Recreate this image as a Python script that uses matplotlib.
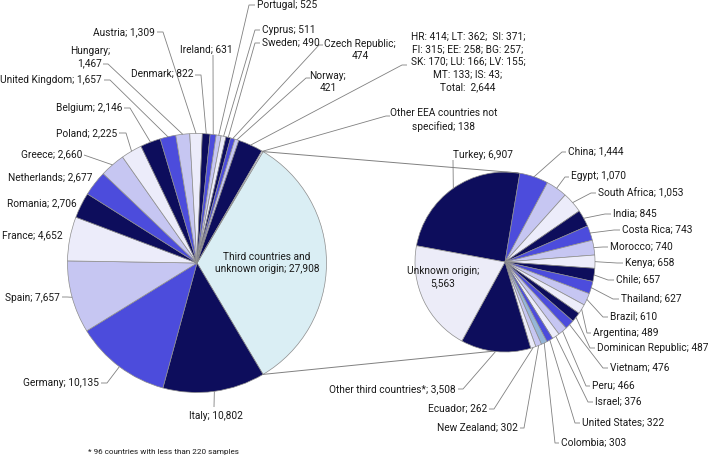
import matplotlib
matplotlib.use('Agg')
import matplotlib.pyplot as plt
import numpy as np

W, H = 709, 456

# ---------------- data ----------------
main_labels = ['Third countries and unknown origin', 'Italy', 'Germany', 'Spain', 'France',
               'Romania', 'Netherlands', 'Greece', 'Poland', 'Belgium', 'United Kingdom',
               'Hungary', 'Austria', 'Denmark', 'Ireland', 'Portugal', 'Cyprus', 'Sweden',
               'Czech Republic', 'Norway', 'Other EU/EEA', 'Other EEA countries not specified']
main_values = [27908, 10802, 10135, 7657, 4652, 2706, 2677, 2660, 2225, 2146, 1657,
               1467, 1309, 822, 631, 525, 511, 490, 474, 421, 2644, 138]

others_codes = ['HR', 'LT', 'SI', 'FI', 'EE', 'BG', 'SK', 'LU', 'LV', 'MT', 'IS']
others_values = [414, 362, 371, 315, 258, 257, 170, 166, 155, 133, 43]

third_labels = ['Turkey', 'China', 'Egypt', 'South Africa', 'India', 'Costa Rica', 'Morocco',
                'Kenya', 'Chile', 'Thailand', 'Brazil', 'Argentina', 'Dominican Republic',
                'Vietnam', 'Peru', 'Israel', 'United States', 'Colombia', 'New Zealand',
                'Ecuador', 'Other third countries*', 'Unknown origin']
third_values = [6907, 1444, 1070, 1053, 845, 743, 740, 658, 657, 627, 610, 489, 487,
                476, 466, 376, 322, 303, 302, 262, 3508, 5563]

footnote = '* 96 countries with less than 220 samples'

# ---------------- styles ----------------
D, B, L, V = '#0d0d5c', '#4c4cdc', '#c6c6f2', '#ececfa'
S = '#96b6d8'
CYAN = '#daeef4'
main_colors = [CYAN, D, B, L, V, D, B, L, V, D, B, L, V, D, B, L, V, D, B, L, D, V]
third_colors = [D, B, L, V, D, B, L, V, D, B, L, V, D, B, L, V, B, S, L, V, D, '#ececf8']

FONT = 'Roboto'
FS = 7.3
TXT = '#1a1a1a'
LEAD = '#808080'

# layout (pixel coords): text x, text y, ha, two-line, leader (x, y, stub) or None
main_layout = [
    (267, 263, 'center', True, None),
    (216, 416, 'center', False, (214, 408, 0)),
    (99, 383, 'right', False, (101, 384, 6)),
    (60, 298, 'right', False, (62, 298, 5)),
    (63, 235, 'right', False, None),
    (77, 203, 'right', False, None),
    (92, 177, 'right', False, None),
    (82, 154, 'right', False, (84, 156, 0)),
    (117, 133, 'right', False, (119, 134, 7)),
    (122, 108, 'right', False, (124, 109, 6)),
    (102, 80, 'right', False, (104, 81, 6)),
    (90, 57, 'center', True, (103, 65, 5)),
    (155, 32, 'right', False, (157, 33, 6)),
    (193, 74, 'right', False, (195, 76, 6)),
    (206, 50, 'center', False, (213, 56, 0)),
    (257, 5, 'left', False, (255, 6, -6)),
    (262, 30, 'left', False, (260, 31, -5)),
    (262, 43, 'left', False, (260, 44, -5)),
    (360, 50, 'center', True, (323, 46, -4)),
    (328, 82, 'center', True, (310, 79, -4)),
    (468, 62, 'center', None, (407, 66, -5)),
    (444, 120, 'center', True, (390, 117, -4)),
]
third_layout = [
    (453, 155, 'left', False, (453, 161, 0)),
    (568, 151, 'left', False, (566, 153, -4)),
    (571, 176, 'left', False, (569, 178, -4)),
    (598, 193, 'left', False, (596, 194, -5)),
    (613, 214, 'left', False, (611, 215, -6)),
    (622, 230, 'left', False, (620, 231, -6)),
    (610, 247, 'left', False, (608, 248, -5)),
    (625, 263, 'left', False, (623, 264, -6)),
    (616, 280, 'left', False, (614, 281, -6)),
    (621, 299, 'left', False, (619, 300, -6)),
    (610, 317, 'left', False, (608, 318, -5)),
    (593, 333, 'left', False, (591, 334, -4)),
    (597, 348, 'left', False, (595, 349, -5)),
    (610, 368, 'left', False, (608, 369, -5)),
    (592, 386, 'left', False, (590, 387, -4)),
    (595, 402, 'left', False, (593, 403, -5)),
    (582, 423, 'left', False, (580, 424, -5)),
    (561, 443, 'left', False, (559, 444, -4)),
    (518, 428, 'right', False, (520, 429, 4)),
    (487, 409, 'right', False, (489, 410, 5)),
    (456, 389, 'right', False, (458, 390, 5)),
    (443, 277, 'center', True, None),
]

MAIN_C, MAIN_R = (197, 264), 129.5
SMALL_C, SMALL_R = (505, 263), 90.0


def Y(y):
    return H - y


fig = plt.figure(figsize=(W / 100, H / 100), dpi=100)
ax = fig.add_axes([0, 0, 1, 1])

wp = dict(edgecolor='#8c8c8c', linewidth=0.5)
main_start = 180.0 * main_values[0] / sum(main_values)
wm, _ = ax.pie(main_values, colors=main_colors, startangle=main_start, counterclock=False,
               center=(MAIN_C[0], Y(MAIN_C[1])), radius=MAIN_R, wedgeprops=wp)
ws, _ = ax.pie(third_values, colors=third_colors, startangle=169.6, counterclock=False,
               center=(SMALL_C[0], Y(SMALL_C[1])), radius=SMALL_R, wedgeprops=wp)

ax.set_xlim(0, W)
ax.set_ylim(0, H)
ax.set_aspect('equal')
ax.axis('off')


def fmt(name, v, two):
    if two:
        return f'{name};\n{v:,}'
    return f'{name}; {v:,}'


def wrap_main(name, v):
    if name.startswith('Third'):
        return f'Third countries and\nunknown origin; {v:,}'
    if name.startswith('Other EEA'):
        return f'Other EEA countries not\nspecified; {v:,}'
    return fmt(name, v, True)


def others_text():
    parts = [f'{c}: {v}' for c, v in zip(others_codes, others_values)]
    lines = [parts[0] + '; ' + parts[1] + ';  ' + parts[2] + ';',
             '; '.join(parts[3:6]) + ';',
             '; '.join(parts[6:9]) + ';', '; '.join(parts[9:11]) + ';',
             f'Total:  {sum(others_values):,}']
    return '\n'.join(lines)


def draw_labels(wedges, names, vals, layout, center, r):
    for w, name, v, (tx, ty, ha, two, lead) in zip(wedges, names, vals, layout):
        if two is None:
            s = others_text()
        elif two:
            s = wrap_main(name, v)
        else:
            s = fmt(name, v, False)
        ax.text(tx, Y(ty), s, ha=ha, va='center', multialignment='center',
                fontsize=FS, family=FONT, color=TXT, linespacing=1.3, zorder=5)
        if lead is not None:
            mid = np.deg2rad((w.theta1 + w.theta2) / 2)
            px = center[0] + r * np.cos(mid)
            py = Y(center[1]) + r * np.sin(mid)
            lx, ly, st = lead
            ax.plot([lx, lx + st, px], [Y(ly), Y(ly), py], color=LEAD, lw=0.6,
                    zorder=4, solid_capstyle='butt')


draw_labels(wm, main_labels, main_values, main_layout, MAIN_C, MAIN_R)
draw_labels(ws, third_labels, third_values, third_layout, SMALL_C, SMALL_R)

# connector lines between the pies
t_top = np.deg2rad(wm[0].theta2)
t_bot = np.deg2rad(wm[0].theta1)
for t_main, t_small in [(t_top, np.deg2rad(81.7)), (t_bot, np.deg2rad(-97.6))]:
    x0 = MAIN_C[0] + MAIN_R * np.cos(t_main)
    y0 = Y(MAIN_C[1]) + MAIN_R * np.sin(t_main)
    x1 = SMALL_C[0] + SMALL_R * np.cos(t_small)
    y1 = Y(SMALL_C[1]) + SMALL_R * np.sin(t_small)
    ax.plot([x0, x1], [y0, y1], color=LEAD, lw=0.7, zorder=1)

ax.text(88, Y(452), footnote, ha='left', va='center', fontsize=5.9, family=FONT, color=TXT)

fig.savefig('out.png', dpi=100)
